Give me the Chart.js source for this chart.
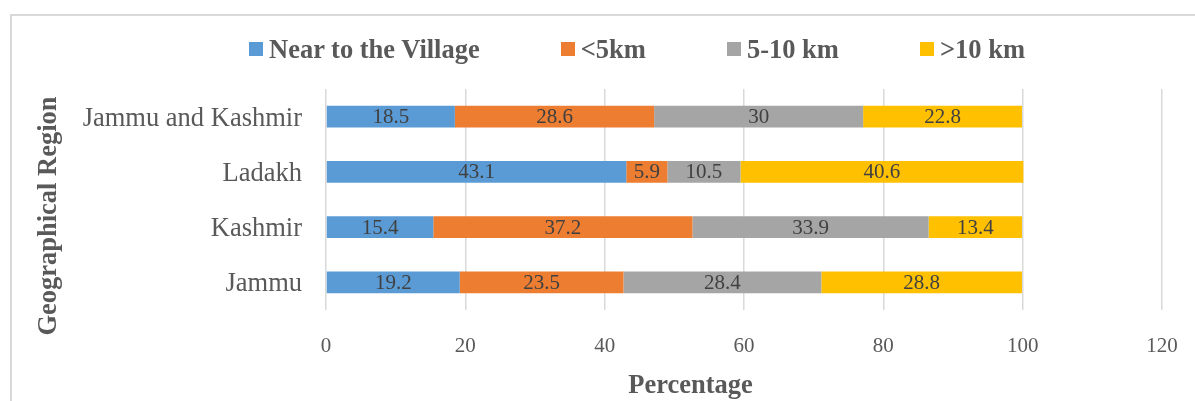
<!DOCTYPE html>
<html>
<head>
<meta charset="utf-8">
<script src="https://cdn.jsdelivr.net/npm/chart.js@4/dist/chart.umd.min.js"></script>
<style>
  html, body { margin: 0; padding: 0; background: #ffffff; }
  #wrap { position: relative; width: 1195px; height: 401px; overflow: hidden; }
  #frame { position: absolute; left: 10px; top: 14px; width: 1300px; height: 500px;
           border-top: 2px solid #d9d9d9; border-left: 2px solid #d9d9d9; }
  #c { position: absolute; left: 0; top: 0; }
  #legend { position: absolute; left: 249px; top: 35px; display: flex; align-items: center; }
  .li { display: flex; align-items: center; margin-right: 81px; }
  .lb { width: 14px; height: 14px; margin-right: 6px; }
  .lt { font: bold 26.5px "Liberation Serif", "Times New Roman", serif; line-height: 28px; color: #595959; white-space: nowrap; }
</style>
</head>
<body>
<div id="wrap">
  <div id="frame"></div>
  <canvas id="c" width="1195" height="401"></canvas>
  <div id="legend"></div>
</div>
<script>
const categories = ['Jammu and Kashmir', 'Ladakh', 'Kashmir', 'Jammu'];
const seriesNames = ['Near to the Village', '<5km', '5-10 km', '>10 km'];
const nearVillage = [18.5, 43.1, 15.4, 19.2];
const lessThan5km = [28.6, 5.9, 37.2, 23.5];
const from5to10km = [30, 10.5, 33.9, 28.4];
const moreThan10km = [22.8, 40.6, 13.4, 28.8];
const xTicks = [0, 20, 40, 60, 80, 100, 120];
const seriesColors = ['#5B9BD5', '#ED7D31', '#A5A5A5', '#FFC000'];

const SERIF = '"Liberation Serif", "Times New Roman", serif';

const valueLabels = {
  id: 'valueLabels',
  afterDatasetsDraw(chart) {
    const ctx = chart.ctx;
    ctx.save();
    ctx.font = '21px ' + SERIF;
    ctx.fillStyle = '#404040';
    ctx.textAlign = 'center';
    ctx.textBaseline = 'middle';
    chart.data.datasets.forEach((ds, di) => {
      const meta = chart.getDatasetMeta(di);
      meta.data.forEach((el, i) => {
        const p = el.getProps(['x', 'base', 'y'], true);
        ctx.fillText(String(ds.data[i]), (p.x + p.base) / 2, p.y + 1);
      });
    });
    ctx.restore();
  }
};

const axisTitles = {
  id: 'axisTitles',
  afterDraw(chart) {
    const ctx = chart.ctx;
    ctx.save();
    ctx.fillStyle = '#595959';
    ctx.font = 'bold 26.5px ' + SERIF;
    ctx.textAlign = 'center';
    ctx.textBaseline = 'alphabetic';
    ctx.fillText('Percentage', 690.5, 393);
    ctx.translate(56, 216);
    ctx.rotate(-Math.PI / 2);
    ctx.fillText('Geographical Region', 0, 0);
    ctx.restore();
  }
};

const seriesData = [nearVillage, lessThan5km, from5to10km, moreThan10km];

const chart = new Chart(document.getElementById('c'), {
  type: 'bar',
  data: {
    labels: categories,
    datasets: seriesNames.map((name, k) => ({
      label: name,
      data: seriesData[k],
      backgroundColor: seriesColors[k],
      borderWidth: 0,
      barPercentage: 0.39,
      categoryPercentage: 1
    }))
  },
  options: {
    indexAxis: 'y',
    responsive: false,
    animation: false,
    devicePixelRatio: 1,
    layout: { padding: { top: 89, right: 33, left: 0, bottom: 0 } },
    plugins: {
      legend: { display: false },
      tooltip: { enabled: false }
    },
    scales: {
      x: {
        stacked: true,
        min: 0,
        max: 120,
        afterBuildTicks(scale) { scale.ticks = xTicks.map(v => ({ value: v })); },
        afterFit(scale) { scale.height = 91; },
        grid: { color: '#d9d9d9', lineWidth: 1.5, drawTicks: true, tickLength: 21, tickColor: 'rgba(0,0,0,0)' },
        border: { display: false },
        ticks: { color: '#595959', font: { family: SERIF, size: 21 }, padding: 3 }
      },
      y: {
        stacked: true,
        afterFit(scale) { scale.width = 326; },
        grid: { display: false, drawTicks: false },
        border: { display: false },
        ticks: { color: '#595959', font: { family: SERIF, size: 26.5 }, padding: 24, labelOffset: 2 }
      }
    }
  },
  plugins: [valueLabels, axisTitles]
});

const legendEl = document.getElementById('legend');
chart.data.datasets.forEach(ds => {
  const item = document.createElement('div');
  item.className = 'li';
  const box = document.createElement('span');
  box.className = 'lb';
  box.style.background = ds.backgroundColor;
  const txt = document.createElement('span');
  txt.className = 'lt';
  txt.textContent = ds.label;
  item.appendChild(box);
  item.appendChild(txt);
  legendEl.appendChild(item);
});
</script>
</body>
</html>
